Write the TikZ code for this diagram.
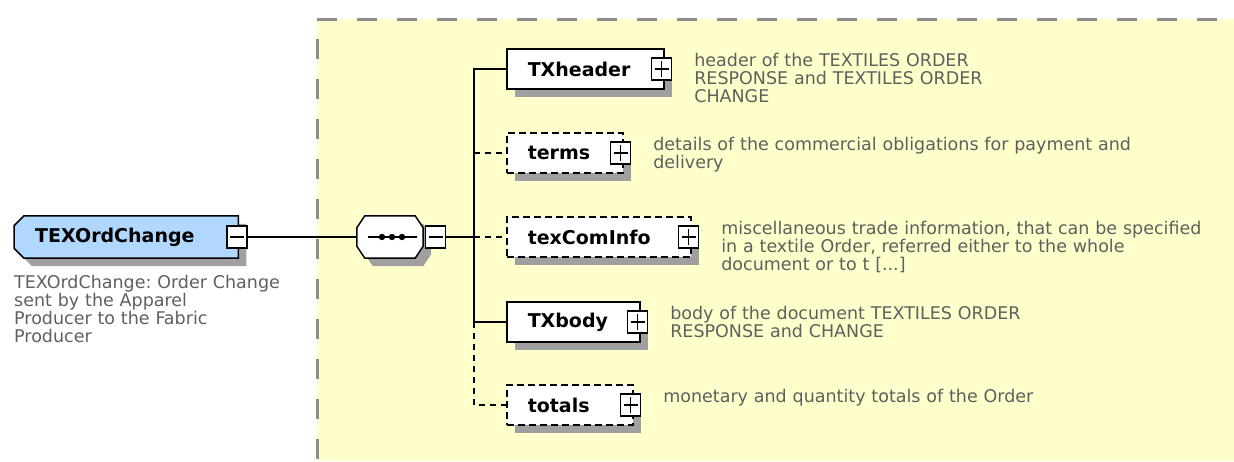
\documentclass[tikz,border=0pt]{standalone}
\usepackage{fontspec}
\setmainfont{DejaVu Sans}
\frenchspacing
\usetikzlibrary{positioning,shadows,backgrounds}
\definecolor{paleyellow}{HTML}{FFFFCC}
\definecolor{paleblue}{HTML}{B0D8FF}
\definecolor{shadowgray}{HTML}{A0A0A0}
\definecolor{notegray}{HTML}{5F5F5F}
\definecolor{framegray}{HTML}{8C8C8C}

\begin{document}
\begin{tikzpicture}[x=1pt,y=-1pt,
    boxshadow/.style={drop shadow={shadow xshift=8pt,shadow yshift=-8pt,fill=shadowgray,opacity=1}},
    label/.style={rectangle,inner xsep=21pt,inner ysep=0pt,minimum height=40pt,align=left,font=\fontsize{19}{22}\selectfont\bfseries},
    elem/.style={label,draw,fill=white,line width=1.5pt,boxshadow},
    optelem/.style={elem,dash pattern=on 7pt off 4pt},
    pmbox/.style={rectangle,draw,fill=white,line width=1.2pt,minimum width=20pt,minimum height=22pt,inner sep=0pt},
    plusbox/.style={pmbox,path picture={\draw[line width=1.2pt] ([xshift=3pt]path picture bounding box.west) -- ([xshift=-3pt]path picture bounding box.east) ([yshift=-3pt]path picture bounding box.north) -- ([yshift=3pt]path picture bounding box.south);}},
    minusbox/.style={pmbox,path picture={\draw[line width=1.2pt] ([xshift=3pt]path picture bounding box.west) -- ([xshift=-3pt]path picture bounding box.east);}},
    note/.style={inner sep=0pt,anchor=base west,align=left,text width=560pt,text=notegray,font=\fontsize{17.5}{18}\selectfont},
    conn/.style={line width=1.5pt},
    optconn/.style={conn,dash pattern=on 6pt off 5pt}]
  \useasboundingbox (0,0) rectangle (1234,461);

  \node[label,minimum width=224pt,minimum height=42pt,inner xsep=0pt,text width=182pt,anchor=west] (root) at (14,237) {TEXOrdChange};
  \node[label,minimum width=66pt,minimum height=42pt,inner sep=0pt] (seq) at (390,237) {};
  \begin{scope}[on background layer]
    \fill[paleyellow] (317,19) rectangle (1234,461);
    \draw[framegray,line width=3pt,dash pattern=on 20pt off 20pt] (317,19) -- (1234,19);
    \draw[framegray,line width=3pt,dash pattern=on 20pt off 20pt,dash phase=20pt] (317,19) -- (317,461);
    \draw[boxshadow,fill=paleblue,line width=1.5pt] ([xshift=10pt]root.north west) -- (root.north east) -- (root.south east)
      -- ([xshift=10pt]root.south west) -- ([yshift=10pt]root.south west) -- ([yshift=-10pt]root.north west) -- cycle;
    \draw[boxshadow,fill=white,line width=1.5pt] ([xshift=8pt]seq.north west) -- ([xshift=-8pt]seq.north east) -- ([yshift=-12pt]seq.north east)
      -- ([yshift=12pt]seq.south east) -- ([xshift=-8pt]seq.south east) -- ([xshift=8pt]seq.south west) -- ([yshift=12pt]seq.south west)
      -- ([yshift=-12pt]seq.north west) -- cycle;
    \draw[line width=1.5pt] ([xshift=11pt]seq.west) -- ([xshift=-6pt]seq.east);
    \foreach \d in {-8,2,12} \fill ([xshift=\d pt]seq.center) circle (3.2pt);
  \end{scope}
  \node[minusbox] (rootm) at ([xshift=-1.5pt]root.east) {};
  \node[note] (rootn) at (14,288) {TEXOrdChange: Order Change\\sent by the Apparel\\Producer to the Fabric\\Producer};
  \node[minusbox,right=2pt of seq] (seqm) {};
  \coordinate (bus) at (474,237);

  \node[elem,text width=115pt,anchor=west] (hdr) at (506,69) {TXheader};
  \node[plusbox] (hdrp) at ([xshift=-3pt]hdr.east) {};
  \node[note] (hdrn) at ([xshift=22pt,yshift=3pt]hdrp.east) {header of the TEXTILES ORDER\\RESPONSE and TEXTILES ORDER\\CHANGE};

  \node[optelem,text width=74pt,anchor=west] (terms) at (506,153) {terms};
  \node[plusbox] (termsp) at ([xshift=-3pt]terms.east) {};
  \node[note] (termsn) at ([xshift=22pt,yshift=3pt]termsp.east) {details of the commercial obligations for payment and\\delivery};

  \node[optelem,text width=142pt,anchor=west] (info) at (506,237) {texComInfo};
  \node[plusbox] (infop) at ([xshift=-3pt]info.east) {};
  \node[note] (infon) at ([xshift=22pt,yshift=3pt]infop.east) {miscellaneous trade information, that can be specified\\in a textile Order, referred either to the whole\\document or to t [...]};

  \node[elem,text width=91pt,anchor=west] (body) at (506,322) {TXbody};
  \node[plusbox] (bodyp) at ([xshift=-3pt]body.east) {};
  \node[note] (bodyn) at ([xshift=22pt,yshift=3pt]bodyp.east) {body of the document TEXTILES ORDER\\RESPONSE and CHANGE};

  \node[optelem,text width=84pt,anchor=west] (totals) at (506,405) {totals};
  \node[plusbox] (totalsp) at ([xshift=-3pt]totals.east) {};
  \node[note] (totalsn) at ([xshift=22pt,yshift=3pt]totalsp.east) {monetary and quantity totals of the Order};

  \draw[conn] (rootm.east) -- (seq.west);
  \draw[conn] (seqm.east) -- (bus);
  \draw[conn] (hdr.west) -- (hdr.west -| bus) -- (body.west -| bus) -- (body.west);
  \draw[optconn] (body.west -| bus) -- (totals.west -| bus) -- (totals.west);
  \draw[optconn] (terms.west -| bus) -- (terms.west);
  \draw[optconn] (info.west -| bus) -- (info.west);
\end{tikzpicture}
\end{document}
